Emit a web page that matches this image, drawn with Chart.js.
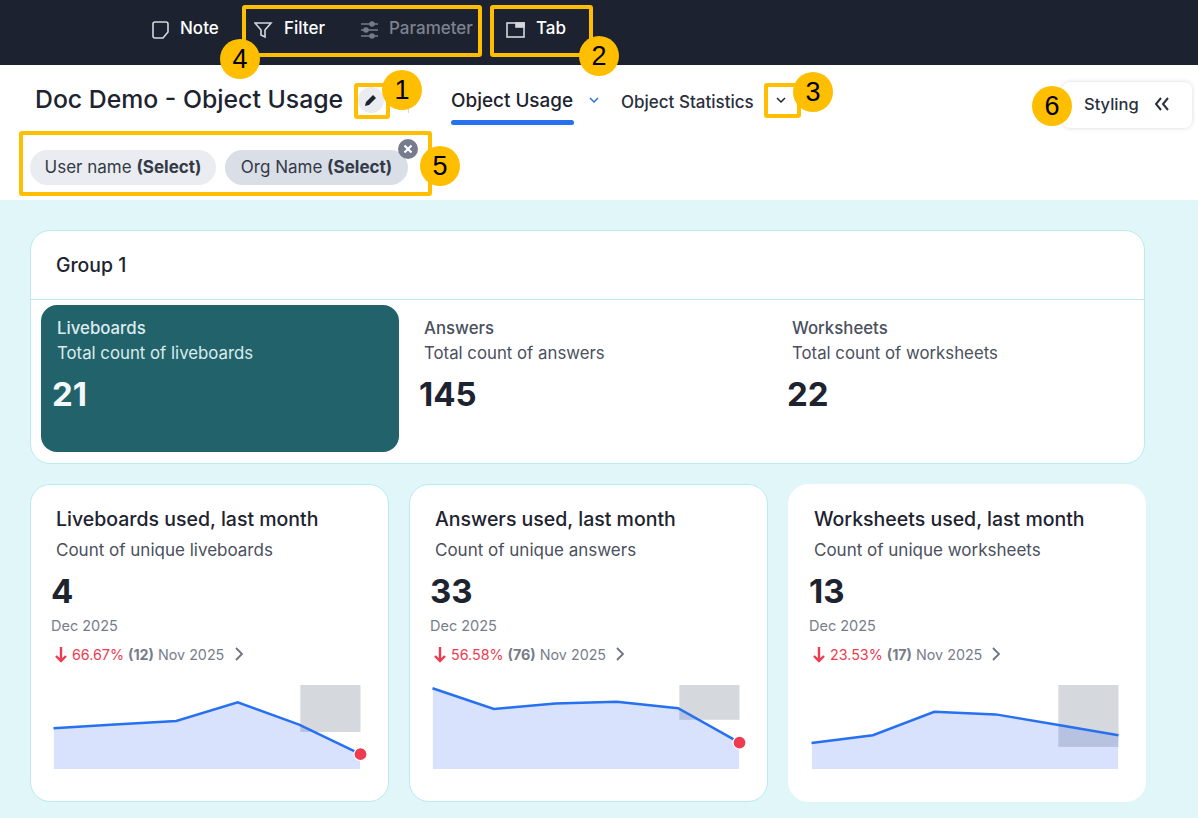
<!DOCTYPE html>
<html>
<head>
<meta charset="utf-8">
<script src="https://cdn.jsdelivr.net/npm/chart.js@4/dist/chart.umd.min.js"></script>
<style>
*{box-sizing:border-box}
html,body{margin:0;padding:0}
body{width:1198px;height:818px;position:relative;overflow:hidden;background:#e0f6f9;font-family:Inter,"Noto Sans",sans-serif;color:#1d232f}
.abs{position:absolute;white-space:nowrap}
#topbar{position:absolute;left:0;top:0;width:1198px;height:65px;background:#1d2230}
#header{position:absolute;left:0;top:65px;width:1198px;height:135px;background:#fff}
.hl{position:absolute;border:4px solid #ffbf00;border-radius:3px}
.badge{position:absolute;width:40px;height:40px;border-radius:50%;background:#ffbf00;color:#000;font:27px "Liberation Sans",sans-serif;text-align:center;line-height:40px}
.pill{position:absolute;height:35px;top:150px;border-radius:18px;font-size:17px;line-height:35px;text-align:center;color:#333a47;white-space:nowrap}
.panel{position:absolute;background:#fff;border:1px solid #b9ebf0}
canvas{position:absolute}
</style>
</head>
<body>
<div id="topbar"></div>
<div id="header"></div>

<!-- toolbar -->
<svg class="abs" style="left:151px;top:21px" width="20" height="18" fill="none" stroke="#d5d8de" stroke-width="1.6"><path d="M2 3q0-2 2-2h11q2 0 2 2v8l-5 6H4q-2 0-2-2z"/></svg>
<div class="abs" style="left:180px;top:18px;font-size:17px;font-weight:500;color:#fff">Note</div>
<svg class="abs" style="left:254px;top:21px" width="20" height="18" fill="none" stroke="#d5d8de" stroke-width="1.6"><path d="M1 2h16l-6 7v7l-4-2V9z"/></svg>
<div class="abs" style="left:284px;top:18px;font-size:17px;font-weight:500;color:#fff">Filter</div>
<svg class="abs" style="left:360px;top:21px" width="20" height="18" stroke="#777c88" stroke-width="1.6"><path d="M1 3h17M1 9h17M1 15h17"/><circle cx="12" cy="3" r="2" fill="#777c88"/><circle cx="6" cy="9" r="2" fill="#777c88"/><circle cx="12" cy="15" r="2" fill="#777c88"/></svg>
<div class="abs" style="left:389px;top:18px;font-size:17px;font-weight:500;color:#7d828e">Parameter</div>
<svg class="abs" style="left:506px;top:21px" width="20" height="18" fill="none" stroke="#d5d8de" stroke-width="1.6"><rect x="1" y="2" width="17" height="14"/><rect x="10" y="2" width="8" height="4" fill="#d5d8de"/></svg>
<div class="abs" style="left:536px;top:18px;font-size:17px;font-weight:500;color:#fff">Tab</div>

<!-- header -->
<div class="abs" style="left:35px;top:84px;font-size:24.8px;font-weight:500;color:#1d232f">Doc Demo - Object Usage</div>
<div class="abs" style="left:358px;top:87px;width:26px;height:26px;border-radius:50%;background:#eaecf1"></div>
<svg class="abs" style="left:364px;top:93px" width="14" height="14" fill="#1d232f"><path d="M1 13l1-4 7-7 3 3-7 7z"/></svg>
<div class="abs" style="left:408px;top:100px;width:1px;height:13px;background:#d5d8de"></div>
<div class="abs" style="left:451px;top:89px;font-size:18.9px;font-weight:500">Object Usage</div>
<div class="abs" style="left:451px;top:120px;width:123px;height:5px;border-radius:3px;background:#2770ef"></div>
<svg class="abs" style="left:589px;top:97px" width="10" height="8" fill="none" stroke="#2770ef" stroke-width="1.5"><path d="M1 1l4 4 4-4"/></svg>
<div class="abs" style="left:621px;top:92px;font-size:17px;font-weight:500;color:#2a303c">Object Statistics</div>
<svg class="abs" style="left:776px;top:97px" width="10" height="8" fill="none" stroke="#1d232f" stroke-width="1.5"><path d="M1 1l4 4 4-4"/></svg>
<div class="abs" style="left:1062px;top:82px;width:130px;height:46px;background:#fff;border-radius:8px;box-shadow:0 0 4px rgba(30,40,60,.18)"></div>
<div class="abs" style="left:1084px;top:94px;font-size:16.5px;font-weight:500;color:#2a303c">Styling</div>
<svg class="abs" style="left:1154px;top:97px" width="16" height="14" fill="none" stroke="#2a303c" stroke-width="2"><path d="M7 1L2 7l5 6M14 1L9 7l5 6"/></svg>

<div class="pill" style="left:30px;width:186px;background:#eaecf1">User name <b>(Select)</b></div>
<div class="pill" style="left:225px;width:183px;background:#dadee7">Org Name <b>(Select)</b></div>
<svg class="abs" style="left:398px;top:139px" width="20" height="20"><circle cx="10" cy="10" r="10" fill="#767c8b"/><path d="M6.5 6.5l7 7M13.5 6.5l-7 7" stroke="#fff" stroke-width="2.2"/></svg>

<!-- highlights and numbered badges -->
<div class="hl" style="left:242px;top:5px;width:240px;height:52px"></div>
<div class="hl" style="left:490px;top:5px;width:103px;height:52px"></div>
<div class="hl" style="left:354px;top:83px;width:36px;height:36px"></div>
<div class="hl" style="left:764px;top:83px;width:37px;height:35px"></div>
<div class="hl" style="left:19px;top:131px;width:413px;height:65px"></div>
<div class="badge" style="left:382px;top:70px">1</div>
<div class="badge" style="left:579px;top:36px">2</div>
<div class="badge" style="left:793px;top:72px">3</div>
<div class="badge" style="left:220px;top:39px">4</div>
<div class="badge" style="left:420px;top:146px">5</div>
<div class="badge" style="left:1032px;top:86px">6</div>

<!-- group panel -->
<div class="panel" style="left:30px;top:230px;width:1115px;height:234px;border-radius:20px"></div>
<div class="abs" style="left:31px;top:299px;width:1113px;height:1px;background:#bfeaf0"></div>
<div class="abs" style="left:56px;top:253px;font-size:19.4px;font-weight:500">Group 1</div>
<div class="abs" style="left:41px;top:305px;width:358px;height:147px;border-radius:16px;background:#22636b"></div>
<div id="cards"></div>

<script>
// ── DATA ─────────────────────────────────────────────────
const months = ['Jul 2025','Aug 2025','Sep 2025','Oct 2025','Nov 2025','Dec 2025'];
const liveboards = [11,12,13,18,12,4];
const answers = [101,75,82,84,76,33];
const worksheets = [10,13,22,21,17,13];

const yMax = [22.7,105,32.3];
const bandLow = [10,61.5,8.5];
const bandStart = 4.02;
const lastDot = [true,true,false];

const groupTitles = ['Liveboards','Answers','Worksheets'];
const groupSubs = ['Total count of liveboards','Total count of answers','Total count of worksheets'];
const groupValues = ['21','145','22'];
const groupLeft = [57,424,792];

const cardTitles = ['Liveboards used, last month','Answers used, last month','Worksheets used, last month'];
const cardSubs = ['Count of unique liveboards','Count of unique answers','Count of unique worksheets'];
const cardValues = ['4','33','13'];
const cardPct = ['66.67%','56.58%','23.53%'];
const cardPrev = ['(12)','(76)','(17)'];
const cardLeft = [30,409,788];
const chevronLeft = [234,615,991];

// ── TEXT CARDS ───────────────────────────────────────────
const put = (x,y,style,html)=>`<div class="abs" style="left:${x}px;top:${y}px;${style}">${html}</div>`;
let out = '';
groupTitles.forEach((t,i)=>{
    const x = groupLeft[i], on = i===0;
    out += put(x,318,`font-size:16.8px;font-weight:500;color:${on?'#dcebec':'#4a505d'}`,t);
    out += put(x,343,`font-size:16.8px;color:${on?'#dcebec':'#4a505d'}`,groupSubs[i]);
    out += put(x-5,374,`font-size:33px;font-weight:700;color:${on?'#f4f7f8':'#1d232f'}`,groupValues[i]);
});
cardTitles.forEach((t,i)=>{
    const x = cardLeft[i];
    out += `<div class="panel" style="left:${x}px;top:484px;width:${i==2?358:359}px;height:318px;border-radius:20px;${i==2?'border-color:#fff':''}"></div>`;
    out += put(x+26,507,'font-size:19.5px;font-weight:500',t);
    out += put(x+26,540,'font-size:17px;color:#4a505d',cardSubs[i]);
    out += put(x+21,571,'font-size:33px;font-weight:700',cardValues[i]);
    out += put(x+21,617,'font-size:14.5px;color:#777d8a',months[5]);
    out += `<svg class="abs" style="left:${x+24}px;top:646px" width="14" height="17" fill="none" stroke="#ee3b4f" stroke-width="2.4"><path d="M7 1v14M2 10l5 5 5-5"/></svg>`;
    out += put(x+42,646,'font-size:14.3px;color:#777d8a',`<span style="color:#ee3b4f">${cardPct[i]}</span> <b>${cardPrev[i]}</b> ${months[4]}`);
    out += `<svg class="abs" style="left:${chevronLeft[i]}px;top:647px" width="10" height="14" fill="none" stroke="#6d7380" stroke-width="1.8"><path d="M2 1l6 6-6 6"/></svg>`;
});
document.getElementById('cards').innerHTML = out;

// ── SPARKLINES ───────────────────────────────────────────
// grey block behind the last month, from Nov to Dec
const bandPlugin = {
    id:'band',
    beforeDatasetsDraw(chart,args,opts){
        const {ctx,scales:{x,y}} = chart;
        const l = x.getPixelForValue(bandStart), r = x.getPixelForValue(5);
        const t = y.getPixelForValue(opts.high), b = y.getPixelForValue(opts.low);
        ctx.save();
        ctx.fillStyle = 'rgba(47,59,81,0.2)';
        ctx.fillRect(l,t,r-l,b-t);
        ctx.restore();
    }
};

function drawSpark(i,values){
    const cv = document.createElement('canvas');
    cv.style.cssText = `left:${cardLeft[i]+13}px;top:675px;width:328px;height:104px`;
    document.body.appendChild(cv);
    new Chart(cv,{
        type:'line',
        plugins:[bandPlugin],
        data:{labels:months,datasets:[{
            data:values,
            borderColor:'#2770ef',
            borderWidth:2.5,
            backgroundColor:'rgba(37,93,240,0.18)',
            fill:true,
            tension:0,
            clip:false,
            pointRadius:c=>lastDot[i]&&c.dataIndex===values.length-1?6.5:0,
            pointBackgroundColor:'#ee3b4f',
            pointBorderColor:'#fff',
            pointBorderWidth:1.2
        }]},
        options:{
            responsive:false,
            animation:false,
            layout:{padding:{left:10.5,right:10.5,top:10,bottom:10}},
            plugins:{legend:{display:false},tooltip:{enabled:false},band:{high:yMax[i],low:bandLow[i]}},
            scales:{
                x:{display:false},
                y:{display:false,min:0,max:yMax[i]}
            }
        }
    });
}
drawSpark(0,liveboards);
drawSpark(1,answers);
drawSpark(2,worksheets);
</script>
</body>
</html>
